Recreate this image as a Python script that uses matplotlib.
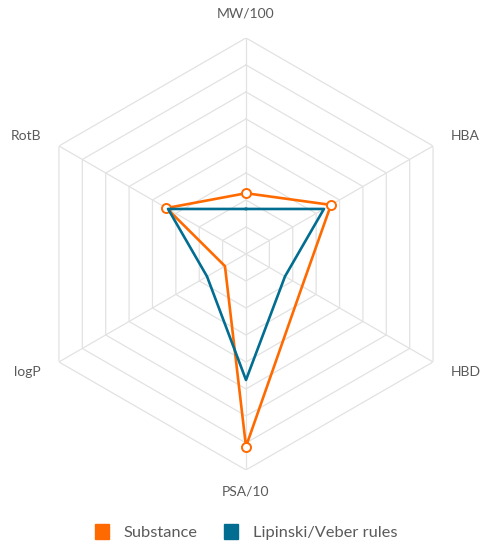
import numpy as np
import matplotlib
matplotlib.use('Agg')
import matplotlib.pyplot as plt
from matplotlib.patches import Patch

# Ejes del radar (sentido horario desde arriba)
categorias = ['MW/100', 'HBA', 'HBD', 'PSA/10', 'logP', 'RotB']
substance = [6.75, 10.9, 7.2, 21.4, 2.7, 10.2]
lipinski = [5, 10, 5, 14, 5, 10]
con_marcador = [0, 1, 3, 5]  # puntos con circulo en la serie naranja
anillos = [3, 6, 9, 12, 15, 18, 21, 24]

naranja = '#ff6a00'
azul = '#006d91'
gris_txt = '#5a5a5a'
gris_grid = '#e2e2e2'

plt.rcParams['font.family'] = ['Lato', 'DejaVu Sans']

fig = plt.figure(figsize=(4.83, 5.5), dpi=100)
ax = fig.add_axes([0.0621, 0.1455, 0.8944, 0.7855], projection='polar')
ax.set_theta_offset(np.pi / 2)
ax.set_theta_direction(-1)
ax.set_ylim(0, anillos[-1])
ax.grid(False)
ax.spines['polar'].set_visible(False)
ax.set_xticks([])
ax.set_yticks([])
ax.patch.set_alpha(0)

n = len(categorias)
ang = np.arange(n) * 2 * np.pi / n
ang_c = np.append(ang, ang[0])

# Rejilla hexagonal
for r in anillos:
    ax.plot(ang_c, [r] * (n + 1), color=gris_grid, lw=0.9, zorder=1)
for a in ang:
    ax.plot([a, a], [0, anillos[-1]], color=gris_grid, lw=0.9, zorder=1)

# Series
sub_c = np.append(substance, substance[0])
lip_c = np.append(lipinski, lipinski[0])
ax.plot(ang_c, sub_c, color=naranja, lw=1.9, zorder=3)
ax.plot(ang[con_marcador], np.array(substance)[con_marcador], 'o', ms=6.5,
        mfc='white', mec=naranja, mew=1.4, zorder=4)
ax.plot(ang_c, lip_c, color=azul, lw=1.9, zorder=5)

# Etiquetas de los ejes
for a, lab in zip(ang, categorias):
    deg = np.degrees(a) % 360
    if deg == 0:
        ax.text(a, 26.7, lab, ha='center', va='center', fontsize=10, color=gris_txt)
    elif deg == 180:
        ax.text(a, 26.4, lab, ha='center', va='center', fontsize=10, color=gris_txt)
    elif deg < 180:
        ax.text(a, 26.3, lab, ha='left', va='center', fontsize=10, color=gris_txt)
    else:
        ax.text(a, 26.3, lab, ha='right', va='center', fontsize=10, color=gris_txt)

handles = [Patch(color=naranja, label='Substance'),
           Patch(color=azul, label='Lipinski/Veber rules')]
fig.legend(handles=handles, loc='center', bbox_to_anchor=(0.51, 1 - 532 / 550),
           ncol=2, frameon=False, fontsize=11.8, handlelength=0.85, handleheight=1.0,
           handletextpad=0.9, columnspacing=1.6, labelcolor=gris_txt)

fig.savefig('out.png', dpi=100)
